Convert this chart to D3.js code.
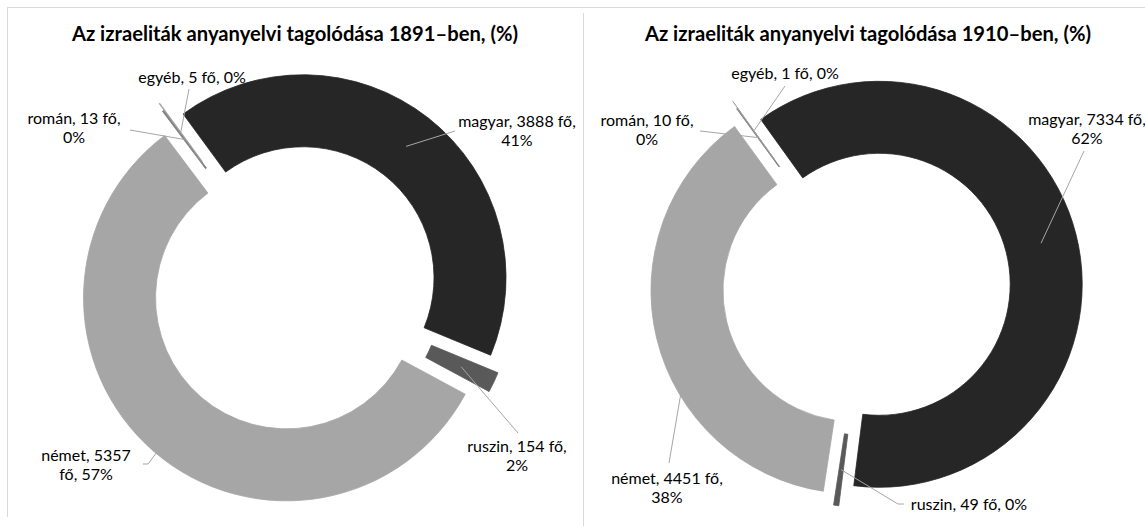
<!DOCTYPE html>
<html>
<head>
<meta charset="utf-8">
<script src="https://cdn.jsdelivr.net/npm/d3@7"></script>
<style>
  body { margin: 0; background: #fff; }
  svg { display: block; font-family: Lato, 'Open Sans', sans-serif; }
</style>
</head>
<body>
<script>
// data
const categories = ['magyar', 'ruszin', 'német', 'román', 'egyéb'];
const years = ['1891', '1910'];
const values1891 = [3888, 154, 5357, 13, 5];
const values1910 = [7334, 49, 4451, 10, 1];
const seriesValues = [values1891, values1910];

const width = 1145,
      height = 526,
      outerR = 203,
      innerR = 131;

const colors = {
  'magyar': '#262626',
  'ruszin': '#595959',
  'német': '#a6a6a6',
  'román': '#7f7f7f',
  'egyéb': '#a0a0a0'
};

// how far each slice is pulled out of the ring
const explode = { 'magyar': 13, 'ruszin': 17, 'német': 13, 'román': 18, 'egyéb': 26 };

// label placement per chart: x = centre of text, y = first baseline,
// wrap = where the label breaks, leader = points from the label towards the slice
const layouts = [
  {
    cx: 295, cy: 288, start: -36.2, titleX: 295,
    labels: {
      'magyar': { x: 517, y: 127, wrap: 'pct', leader: [[455, 131]] },
      'ruszin': { x: 517, y: 452, wrap: 'pct', leader: [[518, 433]] },
      'német':  { x: 86,  y: 461, wrap: 'value', leader: [[143, 464], [148, 464]] },
      'román':  { x: 74,  y: 124, wrap: 'pct', leader: [[130, 130]] },
      'egyéb':  { x: 192, y: 83,  wrap: 'none', leader: [[189, 89]] }
    }
  },
  {
    cx: 866.6, cy: 287.5, start: -35.7, titleX: 868,
    labels: {
      'magyar': { x: 1087, y: 125, wrap: 'pct', leader: [[1084, 151]] },
      'ruszin': { x: 969,  y: 510, wrap: 'none', leader: [[904, 504], [898, 504]] },
      'német':  { x: 667,  y: 484, wrap: 'pct', leader: [[669, 463]] },
      'román':  { x: 647,  y: 126, wrap: 'pct', leader: [[700, 131]] },
      'egyéb':  { x: 785,  y: 79,  wrap: 'none', leader: [[785, 86]] }
    }
  }
];

const svg = d3.select('body')
              .append('svg')
              .attr('width', width)
              .attr('height', height);

// chart area frames
svg.append('line')
   .attr('x1', 7).attr('x2', width).attr('y1', 7.5).attr('y2', 7.5)
   .attr('stroke', '#d9d9d9');
svg.append('line')
   .attr('x1', 7.5).attr('x2', 7.5).attr('y1', 7).attr('y2', 517)
   .attr('stroke', '#d9d9d9');
svg.append('line')
   .attr('x1', 583.5).attr('x2', 583.5).attr('y1', 13).attr('y2', height)
   .attr('stroke', '#d9d9d9');

const rad = Math.PI / 180;

const arc = d3.arc()
              .innerRadius(innerR)
              .outerRadius(outerR);

years.forEach(function(year, ci) {
  const layout = layouts[ci],
        values = seriesValues[ci],
        total = d3.sum(values);

  const rows = categories.map(function(c, i) { return { name: c, value: values[i] } });

  const pie = d3.pie()
                .sort(null)
                .value(d => d.value)
                .startAngle(layout.start * rad)
                .endAngle((layout.start + 360) * rad);

  const arcs = pie(rows);

  const g = svg.append('g')
               .attr('transform', 'translate(' + layout.cx + ',' + layout.cy + ')');

  function shift(d) {
    const mid = (d.startAngle + d.endAngle) / 2,
          e = explode[d.data.name];
    return [Math.sin(mid) * e, -Math.cos(mid) * e];
  }

  g.selectAll('path')
   .data(arcs)
   .enter()
   .append('path')
   .attr('d', arc)
   .attr('transform', d => 'translate(' + shift(d).join(',') + ')')
   .attr('fill', d => colors[d.data.name])
   .attr('stroke', d => colors[d.data.name])
   .attr('stroke-width', 0.8);

  // leader lines, drawn in page coordinates
  const line = d3.line();
  arcs.forEach(function(d) {
    const s = shift(d),
          c = arc.centroid(d),
          lab = layout.labels[d.data.name],
          pts = lab.leader.concat([[layout.cx + s[0] + c[0], layout.cy + s[1] + c[1]]]);
    svg.append('path')
       .attr('d', line(pts))
       .attr('fill', 'none')
       .attr('stroke', '#a6a6a6')
       .attr('stroke-width', 1);
  });

  // data labels
  arcs.forEach(function(d) {
    const lab = layout.labels[d.data.name],
          pct = Math.round(d.data.value / total * 100) + '%';
    let lines;
    if (lab.wrap === 'pct') {
      lines = [d.data.name + ', ' + d.data.value + ' fő,', pct];
    } else if (lab.wrap === 'value') {
      lines = [d.data.name + ', ' + d.data.value, 'fő, ' + pct];
    } else {
      lines = [d.data.name + ', ' + d.data.value + ' fő, ' + pct];
    }
    const t = svg.append('text')
                 .attr('x', lab.x)
                 .attr('y', lab.y)
                 .attr('text-anchor', 'middle')
                 .attr('font-size', 16)
                 .attr('fill', '#000');
    t.selectAll('tspan')
     .data(lines)
     .enter()
     .append('tspan')
     .attr('x', lab.x)
     .attr('dy', (s, i) => i === 0 ? 0 : 19)
     .text(s => s);
  });

  svg.append('text')
     .attr('x', layout.titleX)
     .attr('y', 41)
     .attr('text-anchor', 'middle')
     .attr('font-size', 20.2)
     .attr('font-weight', 'bold')
     .attr('fill', '#000')
     .text('Az izraeliták anyanyelvi tagolódása ' + year + '–ben, (%)');
});
</script>
</body>
</html>
